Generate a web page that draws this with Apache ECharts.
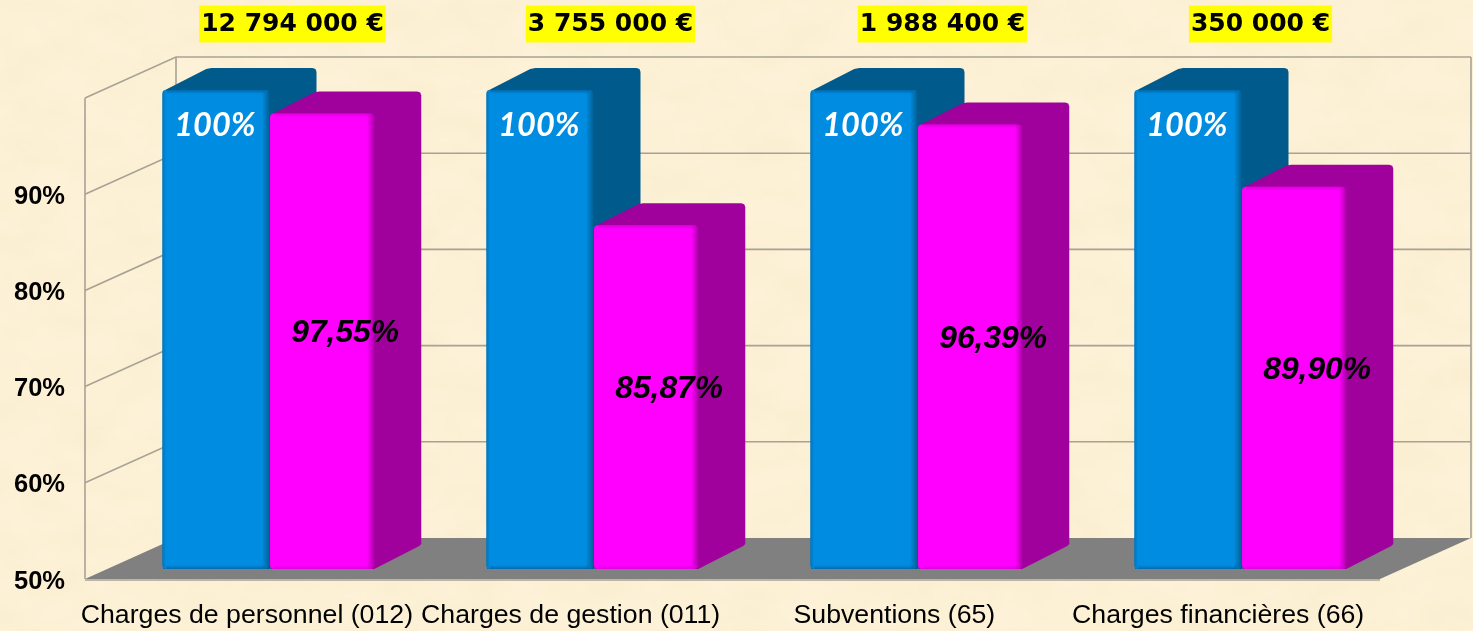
<!DOCTYPE html>
<html>
<head>
<meta charset="utf-8">
<style>
html,body{margin:0;padding:0;width:1473px;height:631px;overflow:hidden;background-color:#fdf2d8;
background-image:url("data:image/svg+xml;utf8,<svg xmlns='http://www.w3.org/2000/svg' width='1473' height='631'><filter id='t' x='0' y='0' width='100%' height='100%'><feTurbulence type='fractalNoise' baseFrequency='0.018 0.03' numOctaves='4' seed='7'/><feColorMatrix values='0 0 0 0 0.93  0 0 0 0 0.80  0 0 0 0 0.55  0.55 0 0 0 -0.13'/></filter><rect width='1473' height='631' filter='url(%23t)'/></svg>");}
#chart{width:1473px;height:631px}
</style>
<script src="https://cdn.jsdelivr.net/npm/echarts@6/dist/echarts.min.js"></script>
</head>
<body>
<div id="chart"></div>
<script>
const categories = ['Charges de personnel (012)', 'Charges de gestion (011)', 'Subventions (65)', 'Charges financières (66)'];
const budgetValues = [100, 100, 100, 100];
const realisedValues = [97.55, 85.87, 96.39, 89.90];
const totals = ['12 794 000 €', '3 755 000 €', '1 988 400 €', '350 000 €'];
const yTicks = [50, 60, 70, 80, 90, 100];
const totalCentres = [292.5, 610.5, 942.5, 1260.5];

const WALL_DX = 91, WALL_DY = -41, BAR_DX = 46, BAR_DY = -22;
const GRID_LINE = '#a8a295';

function hGrad(edge, base, edge2, a, b) {
  return { type: 'linear', x: 0, y: 0, x2: 1, y2: 0, colorStops: [
    { offset: 0, color: edge }, { offset: a, color: base }, { offset: b, color: base }, { offset: 1, color: edge2 } ] };
}
function vStrip(rgb, alpha, toBottom) {
  const on = 'rgba(' + rgb + ',' + alpha + ')', off = 'rgba(' + rgb + ',0)';
  return { type: 'linear', x: 0, y: 0, x2: 0, y2: 1, colorStops: toBottom
    ? [{ offset: 0, color: off }, { offset: 1, color: on }]
    : [{ offset: 0, color: on }, { offset: 1, color: off }] };
}

function renderWalls(params, api) {
  const c = params.coordSys, x0 = c.x, x1 = c.x + c.width;
  const yB = api.coord([0, 50])[1];
  const yT = api.coord([0, 100])[1];
  const children = [];
  const line = (p) => ({ type: 'polyline', shape: { points: p }, style: { fill: null, stroke: GRID_LINE, lineWidth: 1.6 } });
  children.push({ type: 'polygon', shape: { points: [[x0, yB], [x0 + WALL_DX, yB + WALL_DY], [x1 + WALL_DX, yB + WALL_DY], [x1, yB]] }, style: { fill: '#808080' } });
  yTicks.forEach((t) => {
    const y = api.coord([0, t])[1];
    if (t === 50) return;
    children.push(line([[x0, y], [x0 + WALL_DX, y + WALL_DY], [x1 + WALL_DX, y + WALL_DY]]));
  });
  children.push(line([[x0, yT], [x0, yB]]));
  children.push(line([[x0 + WALL_DX, yT + WALL_DY], [x0 + WALL_DX, yB + WALL_DY]]));
  children.push(line([[x1 + WALL_DX, yT + WALL_DY], [x1 + WALL_DX, yB + WALL_DY]]));
  children.push(line([[x0, yB + 1], [x1, yB + 1]]));
  return { type: 'group', children };
}

function makeBar(side, front, edgeL, edgeR, stripRgb, stripAlpha, textColor, font, isFirst) {
  return function (params, api) {
    const band = api.size([1, 0])[0];
    const w = band * 0.328;
    const cx = api.coord([api.value(0), 50])[0];
    const v = api.value(1);
    const yT = api.coord([api.value(0), v])[1];
    const yB = api.coord([api.value(0), 50])[1];
    const x0 = isFirst ? cx - w - 0.5 : cx + 1;
    const wid = isFirst ? w + 1 : w - 2;
    const x1 = x0 + wid;
    const dx = BAR_DX + 1, dy = BAR_DY;
    const txt = (Number.isInteger(v) ? String(v) : v.toFixed(2).replace('.', ',')) + '%';
    return { type: 'group', children: [
      { type: 'polygon', shape: { points: [
        [x0 + 1, yT + 1], [x0 + dx - 3, yT + dy + 1], [x0 + dx + 2, yT + dy],
        [x1 + dx - 4, yT + dy], [x1 + dx - 1, yT + dy + 1], [x1 + dx, yT + dy + 4],
        [x1 + dx, yB + dy - 3], [x1 + dx - 2, yB + dy - 1], [x1, yB], [x0 + 1, yB] ] },
        style: { fill: side } },
      { type: 'rect', shape: { x: x0, y: yT, width: wid, height: yB - yT, r: 4 }, style: { fill: hGrad(edgeL, front, edgeR, 0.035, 0.93) } },
      { type: 'rect', shape: { x: x0 + 4, y: yT, width: wid - 8, height: 4 }, style: { fill: vStrip(stripRgb, stripAlpha, false) } },
      { type: 'rect', shape: { x: x0 + 4, y: yB - 4, width: wid - 8, height: 4 }, style: { fill: vStrip(stripRgb, stripAlpha, true) } },
      { type: 'text', x: isFirst ? x0 + wid / 2 - 1 : x0 + wid / 2 + 23,
        y: isFirst ? yT + 36 : (yT + yB) / 2 - 8,
        style: { text: txt, fill: textColor, font: font, align: 'center', verticalAlign: 'middle' } }
    ] };
  };
}

const chart = echarts.init(document.getElementById('chart'), null, { renderer: 'canvas' });
chart.setOption({
  backgroundColor: 'transparent',
  animation: false,
  grid: [
    { left: 85, width: 1295, top: 98, bottom: 52 },
    { left: 107, width: 1296, top: 90, bottom: 62 },
    { left: 85, width: 1295, top: 100.5, bottom: 49.5 }
  ],
  xAxis: [
    { type: 'category', gridIndex: 0, data: categories, axisLine: { show: false }, axisTick: { show: false },
      axisLabel: { interval: 0, hideOverlap: false, margin: 23, color: '#000', fontFamily: 'Liberation Sans', fontSize: 26.7 } },
    { type: 'category', gridIndex: 1, data: categories, show: false },
    { type: 'category', gridIndex: 2, data: categories, show: false }
  ],
  yAxis: [
    { type: 'value', gridIndex: 0, min: 50, max: 100, show: false },
    { type: 'value', gridIndex: 1, min: 50, max: 100, show: false },
    { type: 'value', gridIndex: 2, min: 50, max: 100, interval: 10, splitLine: { show: false }, axisLine: { show: false }, axisTick: { show: false },
      axisLabel: { margin: 20, color: '#000', fontFamily: 'Liberation Sans', fontWeight: 'bold', fontSize: 25.5,
        formatter: (v) => (v === 100 ? '' : v + '%') } }
  ],
  series: [
    { type: 'custom', xAxisIndex: 0, yAxisIndex: 0, data: [[0, 50]], renderItem: renderWalls, silent: true, z: 1, clip: false },
    { type: 'custom', name: 'Budget', xAxisIndex: 1, yAxisIndex: 1, z: 2, clip: false,
      data: budgetValues.map((v, i) => [i, v]),
      renderItem: makeBar('#005a8c', '#008ce0', '#0074bc', '#005f96', '0,90,150', 0.7, '#ffffff', 'italic bold 32.5px Lato', true) },
    { type: 'custom', name: 'Réalisé', xAxisIndex: 1, yAxisIndex: 1, z: 3, clip: false,
      data: realisedValues.map((v, i) => [i, v]),
      renderItem: makeBar('#a0009c', '#ff00ff', '#f800f8', '#b000ac', '190,0,190', 0.5, '#000000', 'italic bold 31.8px "Liberation Sans"', false) }
  ],
  graphic: totals.map((t, i) => ({
    type: 'text', x: totalCentres[i], y: 24, z: 10,
    style: { text: t, fill: '#000', font: 'bold 25px "DejaVu Sans"', align: 'center', verticalAlign: 'middle',
      backgroundColor: '#ffff00', padding: [6, 2, 6, 2] }
  }))
});
</script>
</body>
</html>
